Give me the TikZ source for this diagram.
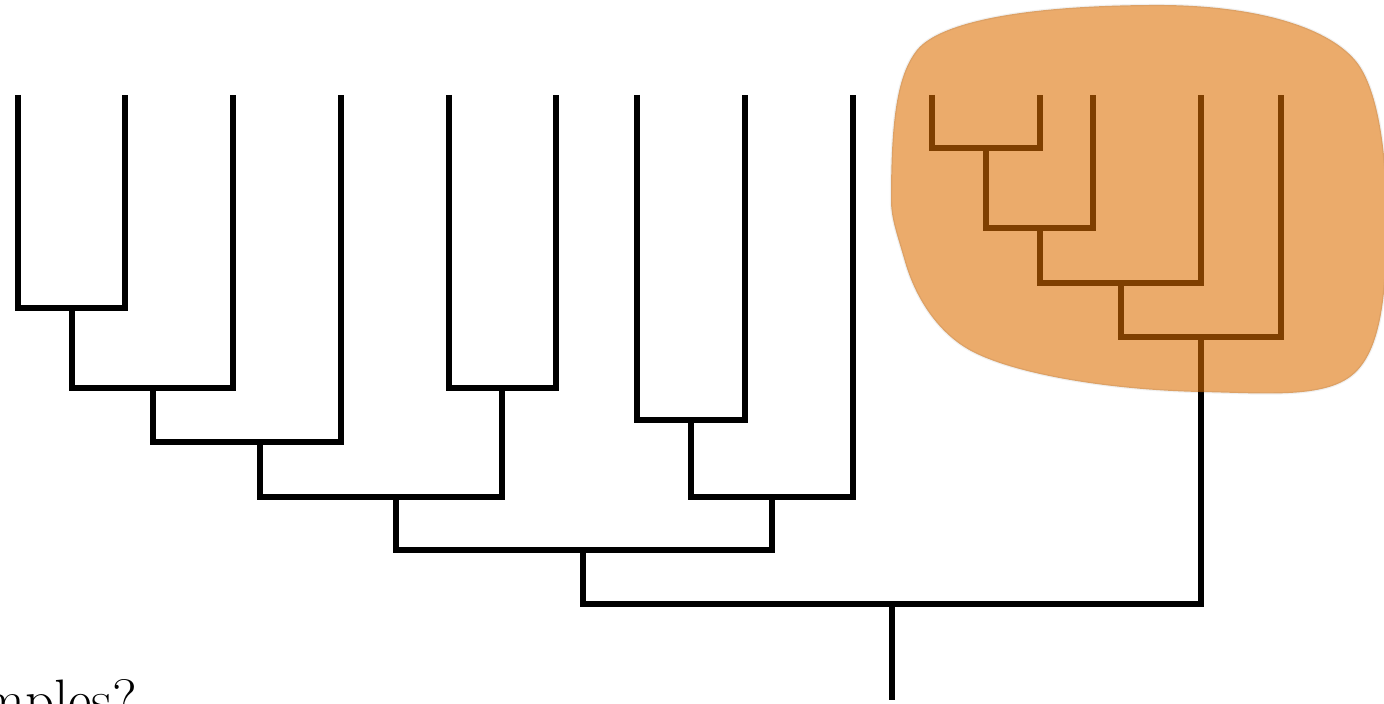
\documentclass[tikz,border=0pt]{standalone}
\usetikzlibrary{calc}
\definecolor{blobfill}{RGB}{220,110,0}
\tikzset{
  branch/.style={draw=black, line width=3pt, line join=miter, line cap=butt},
  blob/.style={fill=blobfill, fill opacity=0.58, draw=black, draw opacity=0.06, line width=1.2pt},
  caption/.style={anchor=base west, inner sep=0pt, font=\fontsize{28.5}{33}\selectfont}
}
% a clade: left child down to the bar, across to the right child, up to it
\newcommand\cladebar[3]{\path[branch] (#1) |- (#2) -| (#3);}
\begin{document}
\begin{tikzpicture}[x=0.5pt, y=-0.5pt]
\useasboundingbox (0,0) rectangle (1384,704);
\clip (0,0) rectangle (1384,704);

% leaf tips
\foreach \n/\x in {L1/18, L2/125, L3/233, L4/341, L5/449, L6/556, L7/637, L8/745, L9/853,
                   O1/932, O2/1040, O3/1093, O4/1201, O5/1281}
  \coordinate (\n) at (\x,95);

% internal nodes (join points on each bar)
\coordinate (n12)    at (72,308);
\coordinate (n123)   at (153,388);
\coordinate (n1234)  at (260,442);
\coordinate (n56)    at (502,388);
\coordinate (nA)     at (396,497);
\coordinate (n78)    at (691,420);
\coordinate (n789)   at (772,497);
\coordinate (nB)     at (583,550);
\coordinate (o12)    at (986,148);
\coordinate (o123)   at (1040,228);
\coordinate (o1234)  at (1121,283);
\coordinate (o12345) at (1201,337);
\coordinate (nR)     at (892,604);
\coordinate (root)   at (892,700);

% left part of the tree
\cladebar{L1}{n12}{L2}
\cladebar{n12}{n123}{L3}
\cladebar{n123}{n1234}{L4}
\cladebar{L5}{n56}{L6}
\cladebar{n1234}{nA}{n56}
\cladebar{L7}{n78}{L8}
\cladebar{n78}{n789}{L9}
\cladebar{nA}{nB}{n789}

% highlighted clade
\cladebar{O1}{o12}{O2}
\cladebar{o12}{o123}{O3}
\cladebar{o123}{o1234}{O4}
\cladebar{o1234}{o12345}{O5}

% basal split and root
\cladebar{nB}{nR}{o12345}
\path[branch] (nR) -- (root);

% translucent highlight over the clade
\path[blob] (891,200)
  .. controls (891,120) and (897,75) .. (917,50)
  .. controls (937,25) and (1010,6) .. (1150,5)
  .. controls (1250,4) and (1325,25) .. (1355,60)
  .. controls (1375,83) and (1387,140) .. (1387,220)
  .. controls (1387,300) and (1380,355) .. (1350,377)
  .. controls (1320,399) and (1260,393) .. (1200,392)
  .. controls (1110,390) and (1020,375) .. (975,353)
  .. controls (940,336) and (916,300) .. (905,262)
  .. controls (896,231) and (891,218) .. (891,200) -- cycle;

% caption
\node[caption] (question) at (-19,719) {mples?};
\end{tikzpicture}
\end{document}
